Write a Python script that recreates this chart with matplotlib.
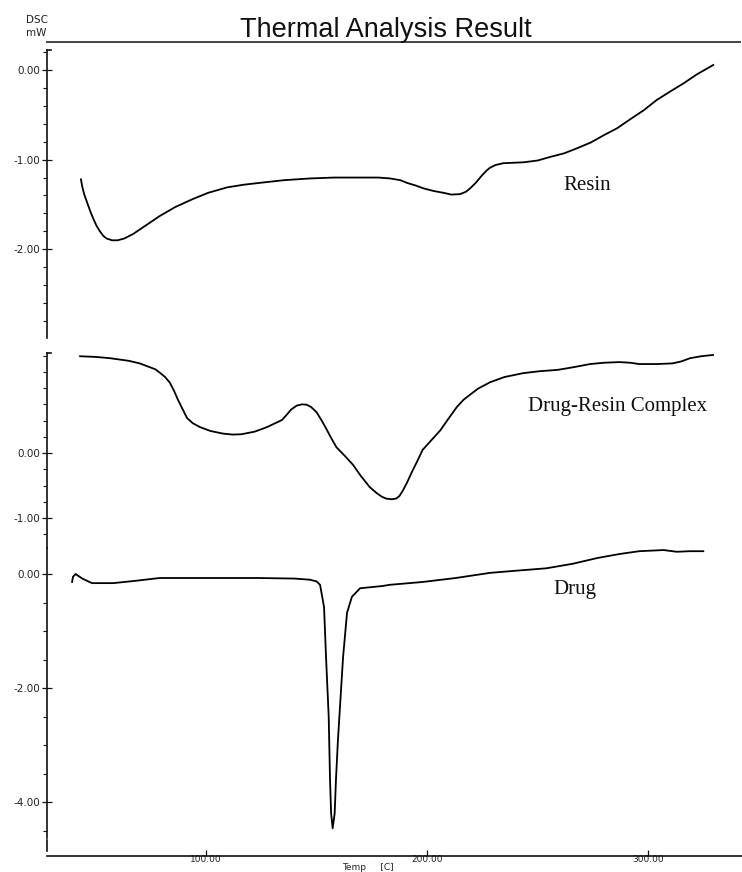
import matplotlib
matplotlib.use("Agg")
import matplotlib.pyplot as plt
from matplotlib.lines import Line2D
from matplotlib.ticker import FixedLocator, MultipleLocator, FormatStrFormatter

# ---------------- data ----------------
title = "Thermal Analysis Result"
series_names = ["Resin", "Drug-Resin Complex", "Drug"]
x_ticks = [100.0, 200.0, 300.0]

temp_resin = [43.4, 44.0, 44.8, 45.8, 46.8, 48.0, 49.2, 50.5, 52, 53.5, 55.0, 57.5,
              60, 63, 67, 73, 79, 86, 94, 101, 109.5, 117, 124, 135, 147, 158, 170,
              178, 183.3, 188, 191, 195, 198.3, 203, 207.4, 211, 214.9, 217.5, 219.5,
              222, 224.7, 227, 228.5, 231, 234.5, 243.6, 250, 255.7, 262, 267.7, 274,
              279.8, 286, 291.9, 298, 303.9, 310, 316, 322, 329.5]
dsc_resin = [-1.22, -1.30, -1.38, -1.45, -1.52, -1.60, -1.67, -1.74, -1.80, -1.85,
             -1.88, -1.90, -1.90, -1.88, -1.83, -1.73, -1.63, -1.53, -1.44, -1.37,
             -1.31, -1.28, -1.26, -1.23, -1.21, -1.20, -1.20, -1.20, -1.21, -1.23,
             -1.26, -1.29, -1.32, -1.35, -1.37, -1.39, -1.385, -1.36, -1.32, -1.26,
             -1.18, -1.12, -1.09, -1.06, -1.04, -1.03, -1.01, -0.97, -0.93, -0.875,
             -0.81, -0.73, -0.65, -0.55, -0.45, -0.335, -0.24, -0.15, -0.05, 0.056]

temp_complex = [43, 50, 56.6, 65, 70, 74.7, 77, 79, 81.5, 83.7, 85.5, 87.3, 89.5, 91.4,
                94, 97.3, 102, 107.7, 112, 116, 122, 127.6, 134.4, 136.5, 138.5, 141,
                143.4, 145.5, 147.5, 150, 152, 154, 156.5, 159, 163, 166.5, 170, 174,
                177, 179.5, 181.5, 184, 186, 187.5, 189, 191, 193, 195.5, 198, 202,
                206, 209.5, 213.5, 216.5, 219.5, 223, 228.5, 235, 243.5, 251, 259,
                266, 273.8, 280, 287, 292, 296, 304, 311, 315, 319, 324, 329.4]
dsc_complex = [1.49, 1.48, 1.46, 1.42, 1.38, 1.32, 1.29, 1.24, 1.17, 1.08, 0.96, 0.82,
               0.67, 0.54, 0.46, 0.40, 0.34, 0.30, 0.285, 0.29, 0.33, 0.40, 0.51,
               0.59, 0.67, 0.73, 0.75, 0.745, 0.71, 0.63, 0.52, 0.40, 0.24, 0.09,
               -0.05, -0.18, -0.35, -0.52, -0.61, -0.67, -0.70, -0.71, -0.70, -0.66,
               -0.58, -0.45, -0.30, -0.13, 0.05, 0.20, 0.35, 0.52, 0.71, 0.82, 0.90,
               0.99, 1.09, 1.17, 1.23, 1.26, 1.28, 1.32, 1.37, 1.39, 1.40, 1.39, 1.37,
               1.37, 1.38, 1.41, 1.46, 1.49, 1.51]

temp_drug = [39.4, 39.8, 41, 44, 48.4, 58, 68, 79, 100, 123, 140, 147, 150, 151.6,
             153.4, 154.3, 155.5, 156.1, 156.6, 157.3, 158.2, 158.8, 159.7, 162,
             163.8, 166, 169.7, 180, 183, 198, 213, 228.5, 241, 254, 266, 277, 287,
             296, 307, 313, 319, 325]
dsc_drug = [-0.14, -0.05, 0.0, -0.08, -0.16, -0.16, -0.12, -0.07, -0.07, -0.07, -0.08,
            -0.10, -0.13, -0.19, -0.58, -1.46, -2.5, -3.6, -4.2, -4.46, -4.2, -3.6,
            -2.9, -1.46, -0.68, -0.40, -0.25, -0.21, -0.19, -0.14, -0.07, 0.02, 0.06,
            0.10, 0.18, 0.28, 0.35, 0.40, 0.42, 0.39, 0.40, 0.40]

# ---------------- figure ----------------
W, H = 742, 872
fig = plt.figure(figsize=(W / 100, H / 100), dpi=100)
fig.patch.set_facecolor("white")

def fy(py):
    return 1 - py / H

def fx(px):
    return px / W

XL = (28.05, 342.5)
left = fx(47)
width = 1 - left

small_family = ["DejaVu Sans"]
serif = ["Liberation Serif", "DejaVu Serif"]
ink = "#111111"

def make_axes(ptop, pbot, ylim, majors, minor_step):
    ax = fig.add_axes([left, fy(pbot), width, (pbot - ptop) / H])
    ax.set_xlim(*XL)
    ax.set_ylim(*ylim)
    for s in ["top", "right", "bottom"]:
        ax.spines[s].set_visible(False)
    ax.spines["left"].set_linewidth(1.2)
    ax.spines["left"].set_color(ink)
    ax.yaxis.set_major_locator(FixedLocator(majors))
    ax.yaxis.set_minor_locator(MultipleLocator(minor_step))
    ax.yaxis.set_major_formatter(FormatStrFormatter("%.2f"))
    ax.tick_params(axis="y", which="major", direction="inout", length=7, width=0.9,
                   pad=1, labelsize=7.5, colors=ink)
    ax.tick_params(axis="y", which="minor", direction="out", length=3, width=0.8,
                   colors=ink)
    for lab in ax.get_yticklabels():
        lab.set_family(small_family)
        lab.set_color("#222222")
    ax.tick_params(axis="x", which="both", bottom=False, labelbottom=False)
    ax.patch.set_alpha(0)
    return ax

ax1 = make_axes(50, 338, (-2.99, 0.223), [0.0, -1.0, -2.0], 0.2)
ax2 = make_axes(353, 548, (-1.46, 1.54), [0.0, -1.0], 0.25)
ax3 = make_axes(548, 838, (-4.63, 0.456), [0.0, -2.0, -4.0], 0.5)

lw = 1.3
ax1.plot(temp_resin, dsc_resin, color="black", lw=lw)
ax2.plot(temp_complex, dsc_complex, color="black", lw=lw)
ax3.plot(temp_drug, dsc_drug, color="black", lw=lw)

ax1.text(272.4, -1.285, series_names[0], ha="center", va="center",
         family=serif, size=15, color=ink)
ax2.text(286, 0.71, series_names[1], ha="center", va="center",
         family=serif, size=15, color=ink)
ax3.text(267, -0.28, series_names[2], ha="center", va="center",
         family=serif, size=15, color=ink)

# bottom x axis, drawn a bit below the panel
ax3.spines["bottom"].set_visible(True)
ax3.spines["bottom"].set_position(("outward", 13))
ax3.spines["bottom"].set_linewidth(1.2)
ax3.spines["bottom"].set_color(ink)
ax3.xaxis.set_major_locator(FixedLocator(x_ticks))
ax3.xaxis.set_major_formatter(FormatStrFormatter("%.2f"))
ax3.tick_params(axis="x", which="major", bottom=True, labelbottom=True,
                direction="in", length=4, width=0.9, pad=-1, labelsize=6.5,
                colors=ink)
for lab in ax3.get_xticklabels():
    lab.set_family(small_family)
    lab.set_color("#222222")

# decorative frame pieces
line_kw = dict(color=ink, lw=1.2, transform=fig.transFigure)
fig.add_artist(Line2D([fx(47), fx(740)], [fy(42), fy(42)], color="#444444", lw=1.4,
                      transform=fig.transFigure))
fig.add_artist(Line2D([fx(47), fx(51)], [fy(50), fy(50)], **line_kw))
fig.add_artist(Line2D([fx(47), fx(51)], [fy(353), fy(353)], **line_kw))
fig.add_artist(Line2D([fx(47), fx(47)], [fy(840), fy(851)], **line_kw))

# texts
fig.text(fx(386), fy(30), title, ha="center", va="center",
         family=["Liberation Sans", "DejaVu Sans"], size=19.5, color=ink)
fig.text(fx(37), fy(20), "DSC", ha="center", va="center",
         family=small_family, size=7.5, color="#222222")
fig.text(fx(36), fy(33), "mW", ha="center", va="center",
         family=small_family, size=7.5, color="#222222")
fig.text(fx(368), fy(867), "Temp     [C]", ha="center", va="center",
         family=small_family, size=6.5, color="#222222")

fig.savefig("out.png", dpi=100, facecolor="white")
